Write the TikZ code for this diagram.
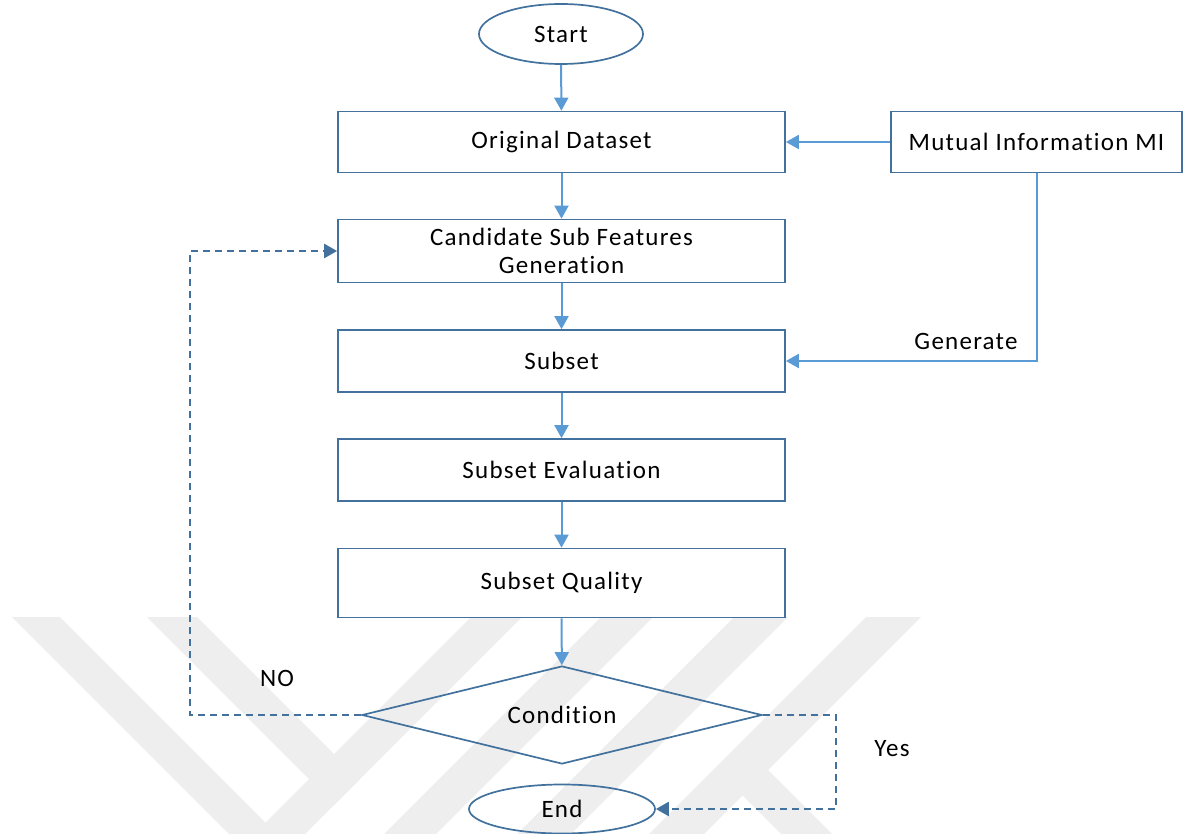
\documentclass[tikz,border=0pt]{standalone}
\usepackage{fontspec}
\setmainfont{Carlito}[LetterSpace=5, Ligatures=NoCommon]
\usetikzlibrary{arrows.meta,shapes.geometric}

\definecolor{frame}{RGB}{65,113,156}
\definecolor{link}{RGB}{91,155,213}
\definecolor{emblemgray}{RGB}{238,238,238}

\tikzset{
  box/.style={draw=frame, line width=1.7pt, rectangle, minimum height=61pt,
              inner sep=0pt, align=center},
  mainbox/.style={box, minimum width=447pt},
  terminal/.style={draw=frame, line width=1.7pt, ellipse, inner sep=0pt},
  decision/.style={draw=frame, line width=1.7pt, diamond, aspect=4, inner sep=0pt,
                   minimum width=400pt, minimum height=98pt},
  flow/.style={draw=link, line width=2pt,
               -{Triangle[length=13pt,width=14pt]}},
  back/.style={draw=frame, line width=2.2pt, dash pattern=on 7pt off 5pt,
               -{Triangle[length=13pt,width=14pt]}},
  tag/.style={inner sep=0pt}
}

\begin{document}
\begin{tikzpicture}[x=1pt, y=-1pt, font=\fontsize{25}{28}\selectfont]
\useasboundingbox (0,0) rectangle (1187,834);

% faint emblem in the lower part of the page
\begin{scope}[fill=emblemgray]
  \fill (12,617) -- (60,617) -- (277,834) -- (229,834) -- cycle;
  \fill (147,617) -- (197,617) -- (359.5,779.5) -- (334.5,804.5) -- cycle;
  \fill (471,617) -- (522,617) -- (305,834) -- (254,834) -- cycle;
  \fill (601,617) -- (653,617) -- (436,834) -- (384,834) -- cycle;
  \fill (734,617) -- (788,617) -- (571,834) -- (517,834) -- cycle;
  \fill (866,617) -- (921,617) -- (704,834) -- (649,834) -- cycle;
  \fill (768,770) -- (832,834) -- (781,834) -- (730,783) -- cycle;
\end{scope}

% flowchart nodes
\node[terminal, minimum width=164pt, minimum height=60pt] (start) at (561,34) {Start};
\node[mainbox] (od)   at (561.5,142) {Original Dataset};
\node[box, minimum width=291pt] (mi) at (1036.5,142) {Mutual Information MI};
\node[mainbox, minimum height=63pt] (cand) at (561.5,251) {Candidate Sub Features\\Generation};
\node[mainbox, minimum height=62pt] (sub)  at (561.5,361) {Subset};
\node[mainbox, minimum height=62pt] (eval) at (561.5,470) {Subset Evaluation};
\node[mainbox, minimum height=69pt] (qual) at (561.5,583) {Subset Quality};
\node[decision] (cond) at (562,715) {Condition};
\node[terminal, minimum width=186pt, minimum height=49pt] (endn) at (562,809) {End};

% labels
\node[tag] (gen) at (966,341) {Generate};
\node[tag] (no)  at (277,678) {NO};
\node[tag] (yes) at (892,749) {Yes};

% main flow
\draw[flow] (start) -- (od);
\draw[flow] (od) -- (cand);
\draw[flow] (cand) -- (sub);
\draw[flow] (sub) -- (eval);
\draw[flow] (eval) -- (qual);
\draw[flow] (qual) -- (cond);
\draw[flow] (mi.west) -- (od.east);
\draw[flow] (mi.south) -- (mi.south |- sub.east) -- (sub.east);

% decision branches
\coordinate (nocorner)  at (190,715);
\coordinate (yescorner) at (836,715);
\draw[back] (cond.west) -- (nocorner) |- (cand.west);
\draw[back] (cond.east) -- (yescorner) |- (endn.east);
\end{tikzpicture}
\end{document}
